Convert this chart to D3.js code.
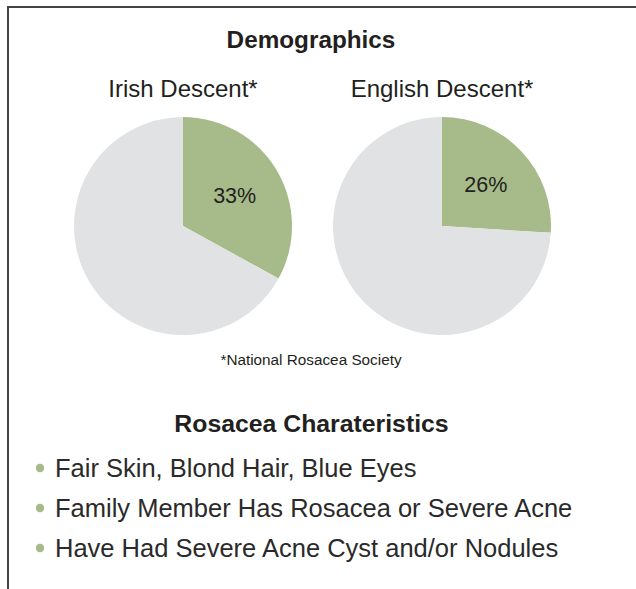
<!DOCTYPE html>
<html lang="en">
<head>
   <meta charset="UTF-8">
   <title>Demographics</title>
   <style>
      body {
         margin: 0;
         background: #fff;
      }

      text {
         font-family: "Liberation Sans", Arial, sans-serif;
         fill: #231f20;
      }
   </style>
   <script src="https://cdn.jsdelivr.net/npm/d3@7"></script>
</head>
<body>
   <div class="d3"></div>
   <script>
      // data
      const groups = ['Irish Descent*', 'English Descent*']
      const shares = [33, 26]
      const traits = [
         'Fair Skin, Blond Hair, Blue Eyes',
         'Family Member Has Rosacea or Severe Acne',
         'Have Had Severe Acne Cyst and/or Nodules'
      ]

      const GREEN = '#a6bb89'
      const GREY = '#e1e2e4'

      const svg = d3.select('.d3').append('svg')
         .attr('width', 636)
         .attr('height', 589)

      // frame (top + left edges only)
      svg.append('path')
         .attr('d', 'M8,589 V7 H636')
         .attr('fill', 'none')
         .attr('stroke', '#444')
         .attr('stroke-width', 2)

      svg.append('text')
         .attr('x', 311)
         .attr('y', 48)
         .attr('text-anchor', 'middle')
         .attr('font-weight', 'bold')
         .attr('font-size', 24.3)
         .text('Demographics')

      // pies
      const xScale = d3.scalePoint()
         .domain(groups)
         .range([183, 442])

      const R = 109
      const cy = 226

      const pie = d3.pie().sort(null).value(d => d)
      const arc = d3.arc().innerRadius(0).outerRadius(R)
      const labelArc = d3.arc().innerRadius(60).outerRadius(60)

      groups.forEach((g, i) => {
         const chart = svg.append('g')
            .attr('transform', `translate(${xScale(g)}, ${cy})`)

         chart.append('text')
            .attr('y', -129)
            .attr('text-anchor', 'middle')
            .attr('font-size', 24)
            .text(g)

         const slices = pie([shares[i], 100 - shares[i]])

         chart.selectAll('path')
            .data(slices)
            .enter()
            .append('path')
            .attr('d', arc)
            .attr('fill', (d, j) => j === 0 ? GREEN : GREY)

         chart.append('text')
            .attr('transform', `translate(${labelArc.centroid(slices[0])})`)
            .attr('dy', '0.35em')
            .attr('text-anchor', 'middle')
            .attr('font-size', 21.5)
            .text(shares[i] + '%')
      })

      svg.append('text')
         .attr('x', 311)
         .attr('y', 365)
         .attr('text-anchor', 'middle')
         .attr('font-size', 15.3)
         .text('*National Rosacea Society')

      svg.append('text')
         .attr('x', 311.5)
         .attr('y', 432)
         .attr('text-anchor', 'middle')
         .attr('font-weight', 'bold')
         .attr('font-size', 24.8)
         .text('Rosacea Charateristics')

      // bullet list
      const yScale = d3.scalePoint()
         .domain(d3.range(traits.length))
         .range([477, 557])

      const items = svg.selectAll('g.item')
         .data(traits)
         .enter()
         .append('g')
         .attr('class', 'item')
         .attr('transform', (d, i) => `translate(0, ${yScale(i)})`)

      items.append('circle')
         .attr('cx', 40)
         .attr('cy', -9)
         .attr('r', 4.2)
         .attr('fill', GREEN)

      items.append('text')
         .attr('x', 55)
         .attr('font-size', 25.5)
         .style('fill', '#2a2a2a')
         .text(d => d)
   </script>
</body>
</html>
